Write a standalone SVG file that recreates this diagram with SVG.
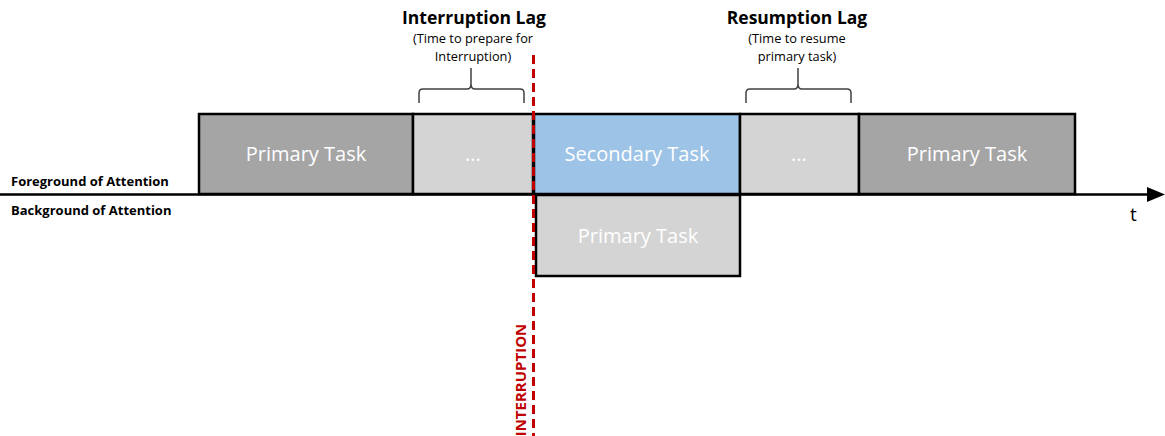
<svg xmlns="http://www.w3.org/2000/svg" width="1165" height="436" viewBox="0 0 1165 436">
  <style>
    .box { stroke: #000; stroke-width: 2.5; }
    .dark { fill: #a5a5a5; }
    .light { fill: #d4d4d4; }
    .blue { fill: #9dc3e6; }
    .lbl { font-family: "Open Sans", "Liberation Sans", sans-serif; font-size: 20px; fill: #fff; text-anchor: middle; }
    .side { font-family: "Open Sans", "Liberation Sans", sans-serif; font-size: 13px; font-weight: bold; fill: #000; }
    .head { font-family: "Open Sans", "Liberation Sans", sans-serif; font-size: 17.5px; font-weight: bold; fill: #000; text-anchor: middle; }
    .sub { font-family: "Open Sans", "Liberation Sans", sans-serif; font-size: 12.8px; fill: #000; text-anchor: middle; }
    .brace { fill: none; stroke: #404040; stroke-width: 1.5; }
  </style>

  <!-- time axis -->
  <g id="connectors">
    <line x1="0" y1="194.5" x2="1150" y2="194.5" stroke="#000" stroke-width="2.5"/>
    <path d="M1147,187 L1165,194.5 L1147,202 Z" fill="#000"/>
  </g>

  <g id="primary-task-1">
    <rect class="box dark" x="199" y="114" width="214" height="80"/>
    <text class="lbl" x="306" y="161">Primary Task</text>
  </g>
  <g id="interruption-lag-box">
    <rect class="box light" x="413" y="114" width="120" height="80"/>
    <text class="lbl" x="473" y="161">...</text>
  </g>
  <g id="secondary-task">
    <rect class="box blue" x="534" y="114" width="206" height="80"/>
    <text class="lbl" x="637" y="161">Secondary Task</text>
  </g>
  <g id="resumption-lag-box">
    <rect class="box light" x="740" y="114" width="119" height="80"/>
    <text class="lbl" x="799" y="161">...</text>
  </g>
  <g id="primary-task-2">
    <rect class="box dark" x="859" y="114" width="216" height="80"/>
    <text class="lbl" x="967" y="161">Primary Task</text>
  </g>
  <g id="primary-task-background">
    <rect class="box light" x="536" y="195" width="204" height="81"/>
    <text class="lbl" x="638" y="243">Primary Task</text>
  </g>

  <g id="attention-labels">
    <text class="side" x="11" y="186">Foreground of Attention</text>
    <text class="side" x="11" y="215">Background of Attention</text>
    <text x="1130" y="221" font-family="Open Sans, Liberation Sans, sans-serif" font-size="19" fill="#000">t</text>
  </g>

  <g id="interruption-lag">
    <text class="head" x="474" y="24">Interruption Lag</text>
    <text class="sub" x="473" y="43">(Time to prepare for</text>
    <text class="sub" x="473" y="61">Interruption)</text>
    <path class="brace" d="M419,103 L419,93 Q419,89 423,89 L467,89 Q471,89 471,84 L471,68 M471,84 Q471,89 475,89 L520,89 Q524,89 524,93 L524,103"/>
  </g>

  <g id="resumption-lag">
    <text class="head" x="797" y="24">Resumption Lag</text>
    <text class="sub" x="797" y="43">(Time to resume</text>
    <text class="sub" x="797" y="61">primary task)</text>
    <path class="brace" d="M746,103 L746,93 Q746,89 750,89 L794,89 Q798,89 798,84 L798,68 M798,84 Q798,89 802,89 L847,89 Q851,89 851,93 L851,103"/>
  </g>

  <g id="interruption">
    <line x1="533.5" y1="55" x2="533.5" y2="436" stroke="#c00000" stroke-width="3" stroke-dasharray="9,5"/>
    <text transform="translate(525.5,380) rotate(-90)" font-family="Open Sans, Liberation Sans, sans-serif" font-size="15" font-weight="bold" fill="#c00000" text-anchor="middle">INTERRUPTION</text>
  </g>
</svg>
